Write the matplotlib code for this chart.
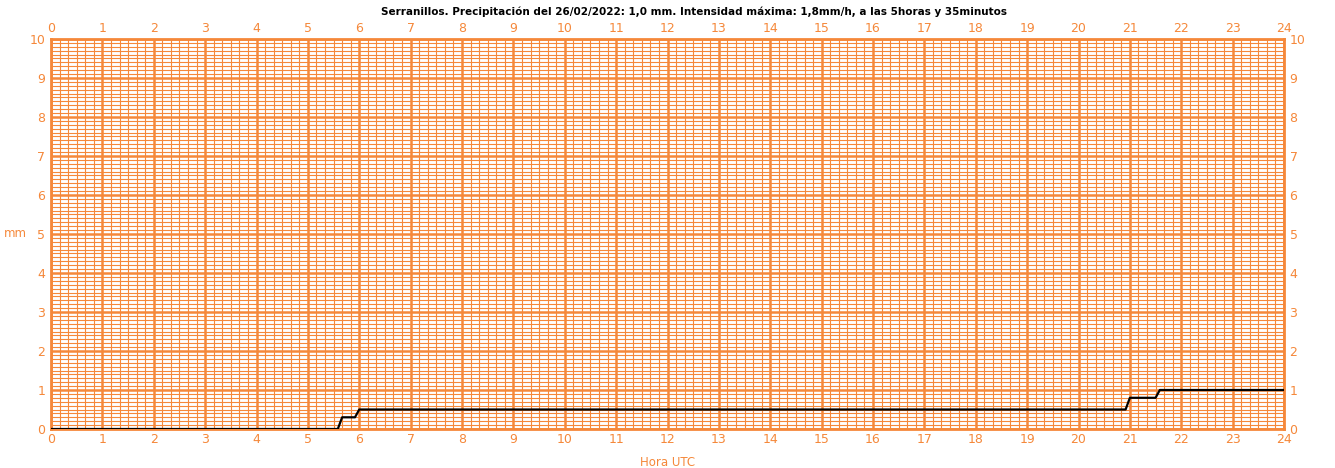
import numpy as np
import matplotlib.pyplot as plt

# Cumulative precipitation, Serranillos 26/02/2022
hours = [0, 5.583, 5.667, 5.917, 6.0, 20.917, 21.0, 21.5, 21.583, 24]
precip_mm = [0, 0, 0.3, 0.3, 0.5, 0.5, 0.8, 0.8, 1.0, 1.0]

hour_ticks = list(range(0, 25))
mm_ticks = list(range(0, 11))

orange = '#F5883A'

fig = plt.figure(figsize=(13.35, 4.68), dpi=100)
ax = fig.add_axes([51 / 1335, 39 / 468, 1233 / 1335, 390 / 468])

ax.set_xlim(0, 24)
ax.set_ylim(0, 10)

# Grid: minor every 10 min / 0.1 mm, major every hour / mm
ax.set_xticks(hour_ticks)
ax.set_yticks(mm_ticks)
ax.set_xticks(np.arange(0, 24.001, 1 / 6), minor=True)
ax.set_yticks(np.arange(0, 10.001, 0.1), minor=True)
ax.grid(which='minor', color=orange, linewidth=0.8)
ax.grid(which='major', color=orange, linewidth=1.8)
ax.set_axisbelow(True)

ax.tick_params(which='both', length=0)
ax.tick_params(axis='x', labeltop=True, labelbottom=True, labelcolor=orange,
               labelsize=9, pad=3)
ax.tick_params(axis='y', labelleft=True, labelright=True, labelcolor=orange,
               labelsize=9, pad=4)

for s in ax.spines.values():
    s.set_color(orange)
    s.set_linewidth(2)

ax.plot(hours, precip_mm, color='black', linewidth=1.6, zorder=5)

ax.set_xlabel('Hora UTC', color=orange, fontsize=8.5, labelpad=7)
ax.set_ylabel('mm', color=orange, fontsize=8.5, rotation=0, labelpad=10, va='center')

fig.text(694 / 1335, 1 - 12 / 468,
         'Serranillos. Precipitación del 26/02/2022: 1,0 mm. Intensidad máxima: 1,8mm/h, a las 5horas y 35minutos',
         ha='center', va='center', fontsize=7.5, fontweight='bold', color='black')

fig.savefig('out.png', dpi=100)
